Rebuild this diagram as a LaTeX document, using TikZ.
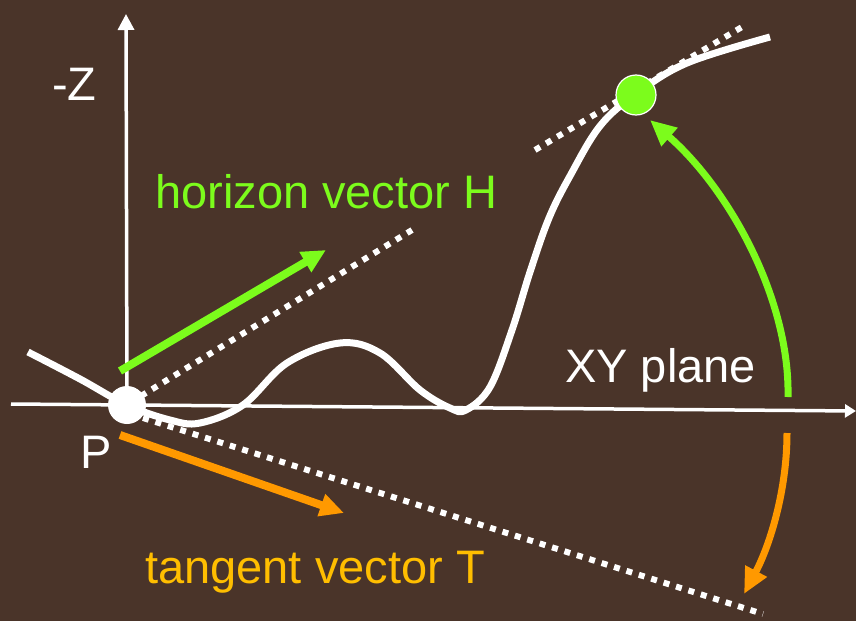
\documentclass[tikz,border=0pt]{standalone}
\usepackage{fontspec}
\setmainfont{Liberation Sans}
\usetikzlibrary{arrows.meta}
\definecolor{bg}{RGB}{74,52,41}
\definecolor{hgreen}{RGB}{124,252,28}
\definecolor{torange}{RGB}{255,153,0}
\definecolor{tyellow}{RGB}{255,190,0}
\begin{document}
\begin{tikzpicture}[x=1pt,y=-1pt,
  lbl/.style={anchor=base west,inner sep=0pt,font=\fontsize{47}{56}\selectfont},
  axisline/.style={white,line width=3.5pt},
  curveline/.style={white,line width=7pt},
  dotline/.style={white,line width=6pt,dash pattern=on 6pt off 7pt},
  vecarrow/.style={line width=8pt,-{Triangle[length=24pt,width=22pt]}},
  turnarrow/.style={line width=7pt,-{Triangle[length=26pt,width=23pt]}}]
\fill[bg] (0,0) rectangle (856,621);
\useasboundingbox (0,0) rectangle (856,621);
% coordinates
\coordinate (P) at (127,405);
\coordinate (Ztop) at (126,14);
\coordinate (Xl) at (11,404);
\coordinate (Xr) at (856,411);
\coordinate (G) at (636,95);
% dotted lines
\coordinate (hd1) at (141,396);
\coordinate (hd2) at (412,230);
\coordinate (hd3) at (535,150);
\coordinate (hd4) at (742,27);
\coordinate (td1) at (143,418);
\coordinate (td2) at (763,614);
\draw[dotline] (hd1) -- (hd2);
\draw[dotline] (hd3) -- (hd4);
\draw[dotline] (td1) -- (td2);
% axes
\draw[axisline,-{Triangle[length=16pt,width=16pt]}] (P) -- (Ztop);
\draw[axisline,-{Triangle[length=11pt,width=13pt]}] (Xl) -- (Xr);
% curve
\draw[curveline,line cap=butt] plot[smooth,tension=0.6] coordinates {
 (28,352) (80,379) (127,405) (170,420) (200,423) (243,405) (287,363)
 (340,343) (380,353) (420,390) (450,408) (466,410) (490,387) (512,330)
 (530,272) (549,218) (570,176) (600,126) (636,94) (687,63) (770,37)};
% dots
\node[circle,fill=white,minimum size=38pt,inner sep=0pt] (Pdot) at (P) {};
\node[circle,fill=hgreen,draw=white,line width=1.2pt,minimum size=40pt,inner sep=0pt] (Gdot) at (G) {};
% vectors
\coordinate (h0) at (120,371);
\coordinate (h1) at (326,250);
\coordinate (t0) at (120,435);
\coordinate (t1) at (344,513);
\draw[vecarrow,hgreen] (h0) -- (h1);
\draw[vecarrow,torange] (t0) -- (t1);
% turning arrows
\coordinate (ga0) at (788,397);
\coordinate (ga1) at (650,120);
\coordinate (oa0) at (787,433);
\coordinate (oa1) at (744,594);
\draw[turnarrow,hgreen] (ga0) .. controls (790,300) and (730,190) .. (ga1);
\draw[turnarrow,torange] (oa0) .. controls (787,490) and (770,545) .. (oa1);
% labels
\node[lbl,white] (zl) at (52,100) {-Z};
\node[lbl,white] (pl) at (80,468) {P};
\node[lbl,hgreen] (hl) at (155,208) {horizon vector H};
\node[lbl,white] (xyl) at (565,382) {XY plane};
\node[lbl,tyellow] (tl) at (145,583) {tangent vector T};
\end{tikzpicture}
\end{document}
